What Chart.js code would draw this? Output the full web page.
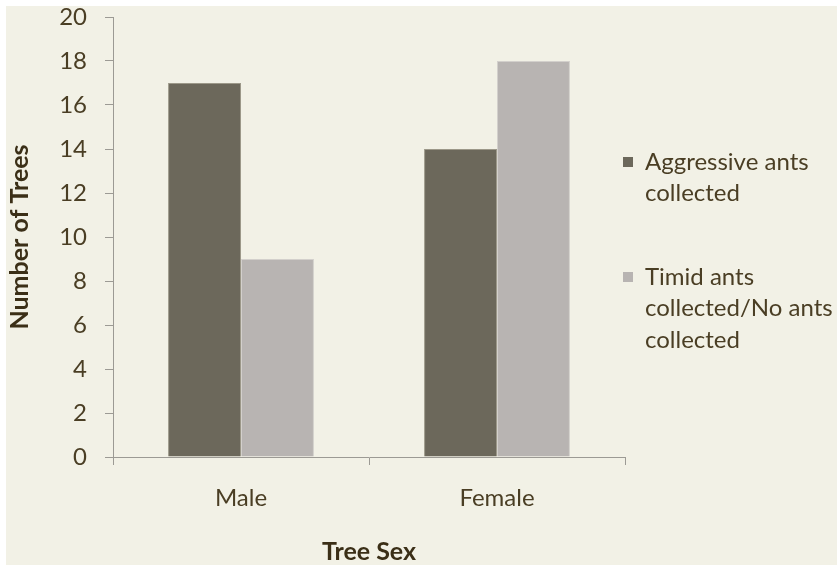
<!DOCTYPE html>
<html>
<head>
<meta charset="utf-8">
<script src="https://cdn.jsdelivr.net/npm/chart.js@4/dist/chart.umd.min.js"></script>
<style>
  html, body { margin: 0; padding: 0; background: #ffffff; }
  #wrap { width: 837px; height: 565px; position: relative; }
</style>
</head>
<body>
<div id="wrap"><canvas id="chart" width="837" height="565"></canvas></div>
<script>
// Tree sex vs. ant behaviour counts
const categories = ['Male', 'Female'];
const aggressiveCounts = [17, 14];
const timidOrNoneCounts = [9, 18];
const seriesLabels = [
  ['Aggressive ants', 'collected'],
  ['Timid ants', 'collected/No ants', 'collected']
];

const FONT = 'Lato, "Open Sans", sans-serif';
const TEXT = '#4a3e24';
const TITLE = '#3b2f17';
const AXIS = '#9c9a94';
const DARK = '#6c685b';
const LIGHT = '#b8b4b2';

// cream panel behind everything, inset from the top-left edge
const panel = {
  id: 'panel',
  beforeDraw(chart) {
    const { ctx, width, height } = chart;
    ctx.save();
    ctx.fillStyle = '#f2f1e6';
    ctx.fillRect(6, 6, width - 6, height - 6);
    ctx.restore();
  }
};

// legend on the right with wrapped labels
const sideLegend = {
  id: 'sideLegend',
  afterDraw(chart) {
    const { ctx } = chart;
    const x = 623, textX = 645, lineH = 31.5;
    const starts = [162, 277];
    ctx.save();
    ctx.font = '24px ' + FONT;
    ctx.textBaseline = 'middle';
    chart.data.datasets.forEach((ds, i) => {
      const y0 = starts[i];
      ctx.fillStyle = ds.backgroundColor;
      ctx.fillRect(x, y0 - 5, 10, 10);
      ctx.fillStyle = TEXT;
      seriesLabels[i].forEach((line, j) => {
        ctx.fillText(line, textX, y0 + j * lineH);
      });
    });
    ctx.restore();
  }
};

new Chart(document.getElementById('chart'), {
  type: 'bar',
  data: {
    labels: categories,
    datasets: [
      {
        label: seriesLabels[0].join(' '),
        data: aggressiveCounts,
        backgroundColor: DARK,
        borderColor: '#9c9889',
        borderWidth: 1,
        barPercentage: 1.0,
        categoryPercentage: 0.57
      },
      {
        label: seriesLabels[1].join(' '),
        data: timidOrNoneCounts,
        backgroundColor: LIGHT,
        borderColor: '#d3d0cc',
        borderWidth: 1,
        barPercentage: 1.0,
        categoryPercentage: 0.57
      }
    ]
  },
  options: {
    responsive: false,
    animation: false,
    layout: { padding: { top: 17, right: 212, bottom: 0, left: 0 } },
    plugins: {
      legend: { display: false },
      tooltip: { enabled: false }
    },
    scales: {
      x: {
        grid: { drawOnChartArea: false, drawTicks: true, tickLength: 8, color: AXIS, offset: true },
        border: { color: AXIS, width: 1 },
        ticks: { color: TEXT, font: { family: FONT, size: 24 }, padding: 19 },
        title: {
          display: true,
          text: 'Tree Sex',
          color: TITLE,
          font: { family: FONT, size: 25, weight: 'bold' },
          padding: { top: 0, bottom: -2 }
        },
        afterFit(scale) { scale.height = 108; }
      },
      y: {
        min: 0,
        max: 20,
        grid: { drawOnChartArea: false, drawTicks: true, tickLength: 8, color: AXIS },
        border: { color: AXIS, width: 1 },
        ticks: { stepSize: 2, color: TEXT, font: { family: FONT, size: 24 }, padding: 18 },
        title: {
          display: true,
          text: 'Number of Trees',
          color: TITLE,
          font: { family: FONT, size: 25, weight: 'bold' },
          padding: { top: 5, bottom: 0 }
        },
        afterFit(scale) {
          scale.width = 113;
          scale.paddingTop = 0;
          scale.paddingBottom = 0;
        }
      }
    }
  },
  plugins: [panel, sideLegend]
});
</script>
</body>
</html>
